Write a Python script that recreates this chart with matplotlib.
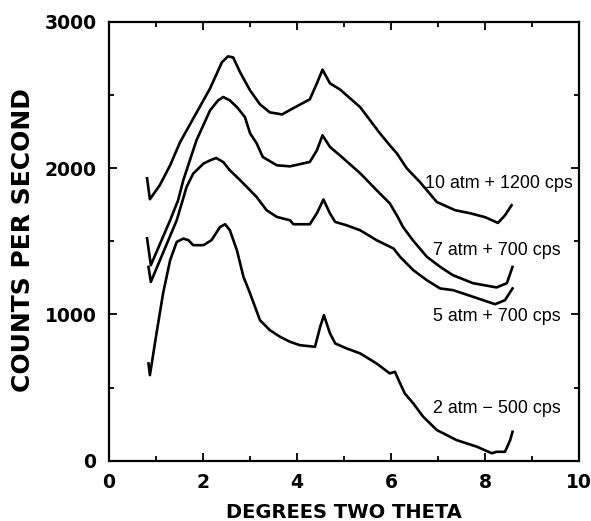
import matplotlib
matplotlib.use("Agg")
import matplotlib.pyplot as plt
from matplotlib.ticker import MultipleLocator

# Traced x-ray scattering curves (degrees two theta, counts per second)
x_10atm = [0.81, 0.87, 1.08, 1.30, 1.51, 1.83, 2.15, 2.40, 2.53, 2.64, 2.79, 3.00, 3.21, 3.42,
           3.68, 3.91, 4.27, 4.42, 4.54, 4.70, 4.91, 5.34, 5.76, 5.97, 6.12, 6.33, 6.61, 6.97,
           7.36, 7.68, 8.00, 8.27, 8.42, 8.56]
y_10atm = [1931, 1788, 1884, 2020, 2177, 2362, 2546, 2724, 2765, 2758, 2655, 2532, 2437, 2382,
           2368, 2409, 2471, 2580, 2674, 2580, 2539, 2418, 2239, 2157, 2102, 2000, 1906, 1769,
           1713, 1692, 1665, 1626, 1678, 1747]

x_7atm = [0.81, 0.89, 1.30, 1.47, 1.58, 1.86, 2.15, 2.32, 2.43, 2.57, 2.72, 2.89, 3.00, 3.14,
          3.27, 3.57, 3.85, 4.27, 4.42, 4.54, 4.70, 4.91, 5.34, 5.69, 5.97, 6.14, 6.25, 6.46,
          6.76, 7.04, 7.31, 7.74, 8.24, 8.46, 8.58]
y_7atm = [1521, 1337, 1644, 1781, 1918, 2191, 2396, 2464, 2487, 2464, 2418, 2350, 2239, 2170,
          2077, 2020, 2013, 2043, 2122, 2225, 2145, 2088, 1966, 1850, 1760, 1667, 1599, 1508,
          1394, 1326, 1269, 1214, 1185, 1214, 1325]

x_5atm = [0.84, 0.89, 1.44, 1.65, 1.79, 2.01, 2.15, 2.28, 2.43, 2.57, 2.79, 2.93, 3.14, 3.35,
          3.57, 3.85, 3.92, 4.27, 4.42, 4.56, 4.70, 4.81, 5.05, 5.34, 5.69, 6.05, 6.19, 6.47,
          6.76, 7.04, 7.32, 7.75, 8.21, 8.42, 8.58]
y_5atm = [1325, 1223, 1644, 1872, 1963, 2032, 2054, 2070, 2042, 1986, 1918, 1872, 1803, 1713,
          1667, 1644, 1617, 1617, 1692, 1786, 1690, 1633, 1610, 1576, 1508, 1451, 1394, 1303,
          1234, 1178, 1166, 1120, 1070, 1098, 1178]

x_2atm = [0.84, 0.87, 1.01, 1.15, 1.30, 1.44, 1.58, 1.69, 1.79, 2.01, 2.18, 2.36, 2.47, 2.57,
          2.72, 2.86, 3.00, 3.21, 3.42, 3.64, 3.85, 4.06, 4.38, 4.49, 4.57, 4.70, 4.81, 5.05,
          5.34, 5.69, 5.97, 6.08, 6.19, 6.29, 6.47, 6.68, 6.97, 7.39, 7.82, 8.14, 8.24, 8.42,
          8.53, 8.58]
y_2atm = [665, 585, 870, 1144, 1371, 1496, 1519, 1508, 1474, 1474, 1508, 1598, 1617, 1576,
          1439, 1257, 1144, 961, 893, 847, 813, 790, 779, 915, 995, 870, 802, 768,
          734, 665, 597, 608, 529, 460, 392, 301, 210, 141, 96, 51, 61, 61,
          141, 198]

labels = ["10 atm + 1200 cps", "7 atm + 700 cps", "5 atm + 700 cps", "2 atm \u2212 500 cps"]
label_x = [6.72, 6.89, 6.89, 6.89]
label_y = [1895, 1440, 984, 358]

fig = plt.figure(figsize=(5.91, 5.21), dpi=100)
ax = fig.add_axes([0.1844, 0.1157, 0.7958, 0.8421])

for xs, ys in [(x_10atm, y_10atm), (x_7atm, y_7atm), (x_5atm, y_5atm), (x_2atm, y_2atm)]:
    ax.plot(xs, ys, color="black", lw=1.9, solid_joinstyle="round")

for txt, tx, ty in zip(labels, label_x, label_y):
    ax.text(tx, ty, txt, fontsize=12.9, family="Liberation Sans", va="center", ha="left")

ax.set_xlim(0, 10)
ax.set_ylim(0, 3000)
ax.xaxis.set_major_locator(MultipleLocator(2))
ax.xaxis.set_minor_locator(MultipleLocator(1))
ax.yaxis.set_major_locator(MultipleLocator(1000))
ax.yaxis.set_minor_locator(MultipleLocator(500))
ax.tick_params(which="both", direction="in", top=True, right=True, width=1.3)
ax.tick_params(which="major", length=6, labelsize=13.5, pad=9)
ax.tick_params(which="minor", length=3.5)
for lab in ax.get_xticklabels() + ax.get_yticklabels():
    lab.set_fontweight("bold")
for sp in ax.spines.values():
    sp.set_linewidth(1.6)

# axis titles placed directly in figure coordinates
fig.text(344 / 591, 1 - 518 / 521, "DEGREES TWO THETA", fontsize=14, fontweight="bold",
         ha="center", va="baseline")
fig.text(23 / 591, 1 - 240 / 521, "COUNTS PER SECOND", fontsize=18, fontweight="bold",
         rotation=90, ha="center", va="center")

fig.savefig("out.png", dpi=100)
